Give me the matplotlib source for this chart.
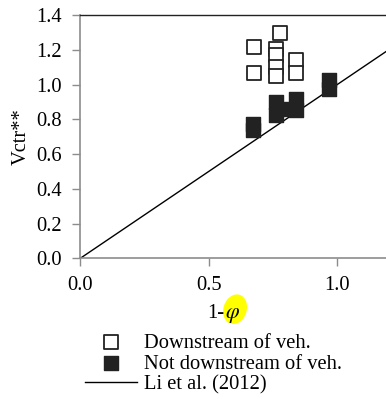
import numpy as np
import matplotlib
matplotlib.use('Agg')
import matplotlib.pyplot as plt
from matplotlib.patches import Ellipse

plt.rcParams['font.family'] = ['Liberation Serif', 'DejaVu Serif']
plt.rcParams['mathtext.fontset'] = 'stix'

# 1-phi and Vctr**
down_x = [0.777, 0.675, 0.675, 0.760, 0.760, 0.760, 0.760, 0.838, 0.838]
down_y = [1.298, 1.214, 1.068, 1.203, 1.170, 1.100, 1.049, 1.141, 1.068]
notdown_x = [0.673, 0.673, 0.761, 0.761, 0.803, 0.840, 0.840, 0.966, 0.966]
notdown_y = [0.774, 0.740, 0.899, 0.826, 0.860, 0.918, 0.855, 1.028, 0.974]
li_x = [0.0, 1.5]
li_y = [0.0, 1.5]

xticks = [0.0, 0.5, 1.0]
yticks = [0.0, 0.2, 0.4, 0.6, 0.8, 1.0, 1.2, 1.4]

fs = 14.8
grey = '#8c8c8c'

fig = plt.figure(figsize=(3.86, 3.99), dpi=100)
# axes runs past the right edge, as in the cropped original
ax = fig.add_axes([0.208, 0.3526, 0.9987, 0.6098])

ln, = ax.plot(li_x, li_y, color='black', lw=1.0, zorder=2)
hd = ax.scatter(down_x, down_y, marker='s', s=100, facecolor='white',
                edgecolor='#222222', linewidth=1.3, zorder=3)
hn = ax.scatter(notdown_x, notdown_y, marker='s', s=105, facecolor='#222222',
                edgecolor='#222222', linewidth=1.0, zorder=4)

ax.set_xlim(0, 1.5)
ax.set_ylim(0, 1.4)
ax.set_xticks(xticks)
ax.set_yticks(yticks)
ax.set_xticklabels(['%.1f' % v for v in xticks], fontsize=fs)
ax.set_yticklabels(['%.1f' % v for v in yticks], fontsize=fs)
ax.tick_params(direction='out', length=6, width=1.0, color=grey, pad=7)

ax.spines['left'].set_color(grey)
ax.spines['bottom'].set_color(grey)
ax.spines['left'].set_linewidth(1.2)
ax.spines['bottom'].set_linewidth(1.2)
ax.spines['top'].set_color('#222222')
ax.spines['top'].set_linewidth(1.0)
ax.spines['right'].set_visible(False)

ax.set_ylabel('Vctr**', fontsize=fs, labelpad=4)

# yellow highlight behind phi
hl = Ellipse((0.609, 0.225), 0.060, 0.076, angle=-20, transform=fig.transFigure,
             facecolor='#ffff00', edgecolor='none', zorder=0)
fig.patches.append(hl)
fig.text(0.584, 0.203, r'$\varphi$', fontsize=fs + 1, ha='left', va='baseline',
         zorder=3)
fig.text(0.582, 0.203, '1-', fontsize=fs, ha='right', va='baseline', zorder=5)

fig.legend([hd, hn, ln],
           ['Downstream of veh.', 'Not downstream of veh.', 'Li et al. (2012)'],
           loc='upper left', bbox_to_anchor=(0.22, 0.165), frameon=False,
           fontsize=fs, handlelength=2.55, handletextpad=0.3, labelspacing=0.08,
           borderpad=0.0, borderaxespad=0.0, scatterpoints=1)

fig.savefig('out.png', dpi=100)
